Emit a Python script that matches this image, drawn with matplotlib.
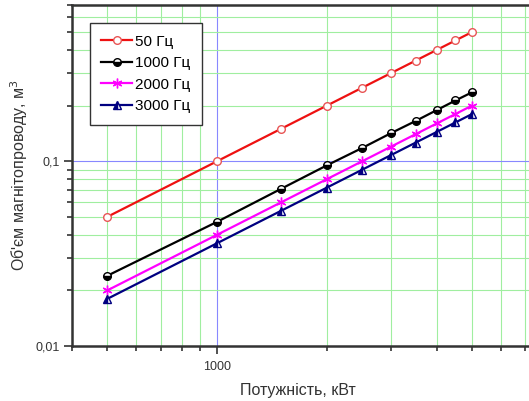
import matplotlib.pyplot as plt
from matplotlib.ticker import LogLocator, FixedLocator, NullFormatter

power = [500, 1000, 1500, 2000, 2500, 3000, 3500, 4000, 4500, 5000]
vol_50 = [0.05, 0.10, 0.15, 0.20, 0.25, 0.30, 0.35, 0.40, 0.45, 0.50]
vol_1000 = [0.024, 0.047, 0.071, 0.095, 0.118, 0.142, 0.165, 0.189, 0.213, 0.236]
vol_2000 = [0.020, 0.040, 0.060, 0.080, 0.100, 0.120, 0.140, 0.160, 0.180, 0.200]
vol_3000 = [0.018, 0.036, 0.054, 0.072, 0.090, 0.108, 0.126, 0.144, 0.162, 0.180]

plt.rcParams['font.family'] = ['Liberation Sans', 'DejaVu Sans']

fig = plt.figure(figsize=(5.29, 4.01), dpi=100)
ax = fig.add_axes([72 / 529, 55 / 401, 1 - 72 / 529, 341 / 401])

ax.plot(power, vol_50, color='#ee1111', lw=1.6, marker='o', ms=5.5,
        mfc='white', mec='#e85555', label='50 Гц')
ax.plot(power, vol_1000, color='black', lw=1.6, marker='o', ms=5.5,
        fillstyle='bottom', mfc='black', mfcalt='white', mec='black', label='1000 Гц')
ax.plot(power, vol_2000, color='#ff00ff', lw=1.6, marker=(6, 2, 0), ms=7,
        mec='#ff00ff', label='2000 Гц')
ax.plot(power, vol_3000, color='#000080', lw=1.6, marker='^', ms=5.5,
        fillstyle='left', mfc='#000080', mfcalt='white', mec='#000080', label='3000 Гц')

ax.set_xscale('log')
ax.set_yscale('log')
ax.set_xlim(400, 7160)
ax.set_ylim(0.01, 0.7)

ax.xaxis.set_major_locator(FixedLocator([1000]))
ax.xaxis.set_minor_locator(LogLocator(base=10, subs=range(2, 10), numticks=20))
ax.xaxis.set_minor_formatter(NullFormatter())
ax.set_xticklabels(['1000'])
ax.yaxis.set_major_locator(FixedLocator([0.01, 0.1]))
ax.yaxis.set_minor_locator(LogLocator(base=10, subs=range(2, 10), numticks=20))
ax.yaxis.set_minor_formatter(NullFormatter())
ax.set_yticklabels(['0,01', '0,1'])

ax.grid(True, which='major', color='#8888ff', lw=0.8)
ax.grid(True, which='minor', color='#a0eea0', lw=0.8)
ax.set_axisbelow(True)

for s in ['left', 'bottom', 'top']:
    ax.spines[s].set_color('#333333')
    ax.spines[s].set_linewidth(1.8)
ax.spines['right'].set_visible(False)
ax.tick_params(which='both', direction='out', color='#333333', width=1.2,
               labelsize=9, labelcolor='#333333')
ax.tick_params(which='major', length=6)
ax.tick_params(which='minor', length=3.5)
ax.tick_params(axis='x', pad=5)
ax.tick_params(axis='y', pad=3)

ax.set_xlabel('Потужність, кВт', fontsize=11.5, color='#333333')
ax.set_ylabel('Об\'єм магнітопроводу, м$^3$', fontsize=11.5, color='#333333')
ax.xaxis.set_label_coords(0.495, -0.108)
ax.yaxis.set_label_coords(-0.092, 0.5)

leg = ax.legend(loc='upper left', bbox_to_anchor=(0.039, 0.947), fontsize=11,
                fancybox=False, framealpha=1, edgecolor='#333333',
                handlelength=2.0, handletextpad=0.2, labelspacing=0.5,
                borderpad=0.75, borderaxespad=0)
leg.get_frame().set_linewidth(1.0)

plt.savefig('out.png', dpi=100)
